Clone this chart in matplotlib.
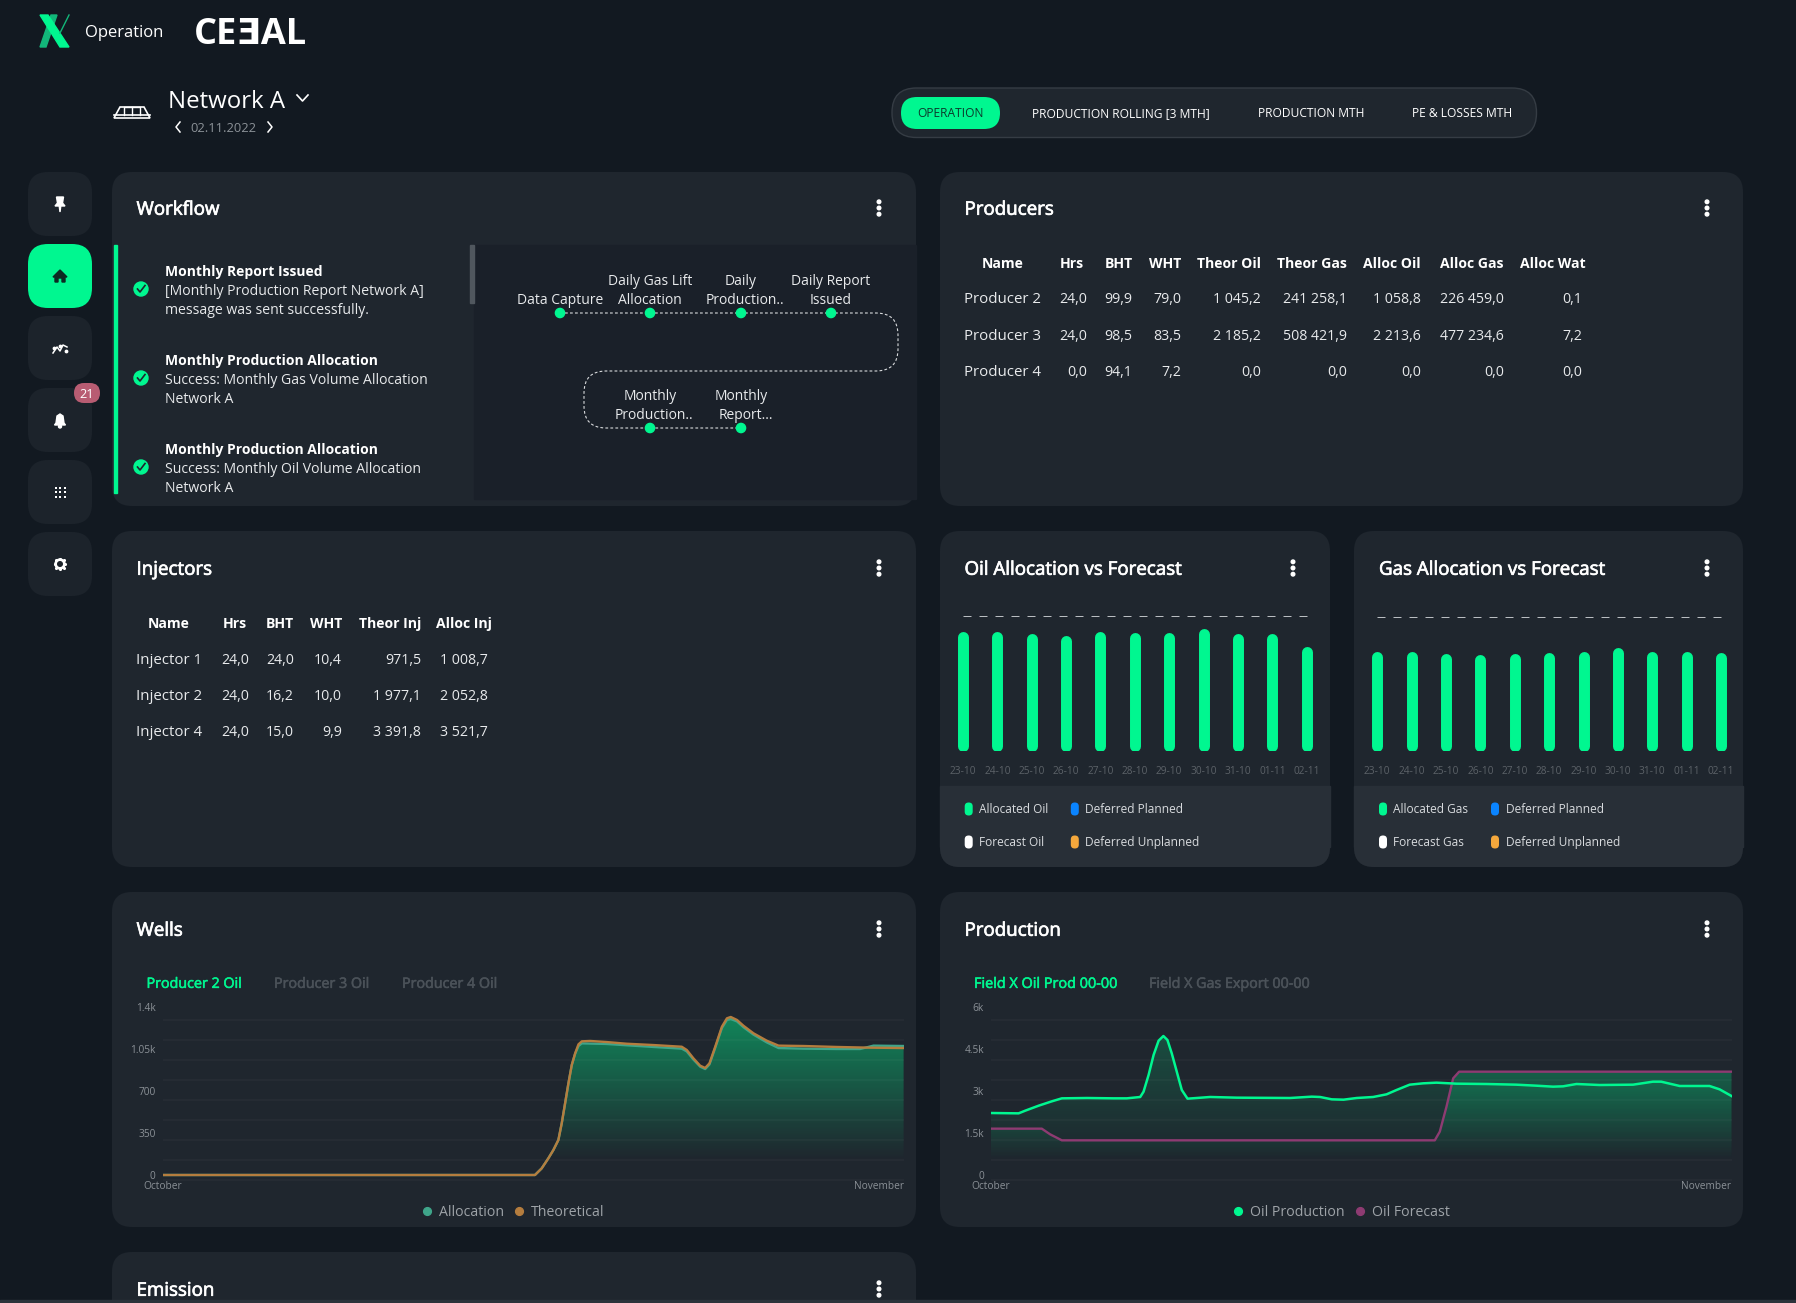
# Operation dashboard, network A
import numpy as np
import matplotlib
matplotlib.use("Agg")
import matplotlib.patheffects as pe
import matplotlib.pyplot as plt
from matplotlib.lines import Line2D
from matplotlib.patches import Circle, FancyBboxPatch, PathPatch, Polygon, Rectangle
from matplotlib.path import Path

plt.rcParams["font.family"] = ["Open Sans", "DejaVu Sans"]

W, H = 1796, 1303

BG = "#121921"
CARD = "#1f262e"
PANEL = "#1a2029"
BAND = "#282f37"
GREEN = "#00f790"
GRID = (1, 1, 1, 0.03)
MUTED = "#8b9197"
TEXT = "#e8eaec"

# tables
producer_cols = ["Name", "Hrs", "BHT", "WHT", "Theor Oil", "Theor Gas", "Alloc Oil", "Alloc Gas", "Alloc Wat"]
producer_rows = [
    ["Producer 2", "24,0", "99,9", "79,0", "1 045,2", "241 258,1", "1 058,8", "226 459,0", "0,1"],
    ["Producer 3", "24,0", "98,5", "83,5", "2 185,2", "508 421,9", "2 213,6", "477 234,6", "7,2"],
    ["Producer 4", "0,0", "94,1", "7,2", "0,0", "0,0", "0,0", "0,0", "0,0"],
]
injector_cols = ["Name", "Hrs", "BHT", "WHT", "Theor Inj", "Alloc Inj"]
injector_rows = [
    ["Injector 1", "24,0", "24,0", "10,4", "971,5", "1 008,7"],
    ["Injector 2", "24,0", "16,2", "10,0", "1 977,1", "2 052,8"],
    ["Injector 4", "24,0", "15,0", "9,9", "3 391,8", "3 521,7"],
]

# bar panels
days = ["23-10", "24-10", "25-10", "26-10", "27-10", "28-10", "29-10", "30-10", "31-10", "01-11", "02-11"]
oil_allocated = [120.0, 119.6, 118.3, 116.3, 119.6, 118.6, 119.3, 123.0, 117.6, 117.6, 104.6]
oil_forecast = [135.6, 135.6, 135.6, 135.6, 135.6, 135.6, 135.6, 135.6, 135.6, 135.6, 135.6]
gas_allocated = [100.3, 100.0, 98.0, 97.3, 97.7, 99.0, 99.7, 104.3, 100.3, 99.7, 99.3]
gas_forecast = [134.6, 134.6, 134.6, 134.6, 134.6, 134.6, 134.6, 134.6, 134.6, 134.6, 134.6]

# wells, x in days since the start of October
theo_x = [0, 15.58, 15.86, 16.14, 16.35, 16.56, 16.70, 16.84, 16.98, 17.12, 17.26, 17.40, 17.54, 17.89,
          18.58, 19.42, 20.54, 21.72, 21.93, 22.21, 22.49, 22.70, 22.88, 23.12, 23.40, 23.61, 23.77,
          24.03, 24.30, 24.72, 25.28, 25.77, 26.81, 28.21, 29.60, 31]
theo_y = [0, 0, 55, 139, 208, 292, 431, 597, 764, 917, 1014, 1089, 1114, 1117,
          1108, 1094, 1083, 1069, 1042, 972, 911, 892, 931, 1069, 1236, 1306, 1317,
          1292, 1244, 1181, 1119, 1078, 1075, 1067, 1061, 1058]
alloc_x = [0, 15.58, 15.86, 16.14, 16.35, 16.56, 16.70, 16.84, 16.98, 17.12, 17.26, 17.40, 17.54,
           18.58, 19.42, 20.54, 21.72, 21.93, 22.21, 22.49, 22.70, 22.88, 23.12, 23.40, 23.61, 23.77,
           24.03, 24.30, 24.72, 25.28, 25.77, 26.81, 28.21, 29.18, 29.74, 31]
alloc_y = [0, 0, 55, 139, 208, 292, 431, 597, 764, 917, 1010, 1075, 1097,
           1092, 1081, 1067, 1053, 1030, 962, 903, 883, 922, 1060, 1225, 1292, 1300,
           1280, 1232, 1170, 1105, 1058, 1053, 1050, 1050, 1078, 1075]

# production
prod_x = [0, 1.16, 1.44, 2.0, 2.55, 2.97, 4.02, 5.13, 5.69, 6.25, 6.39, 6.60, 6.81, 7.02, 7.22, 7.39, 7.57,
          7.78, 7.99, 8.23, 9.18, 10.29, 12.52, 13.43, 13.78, 14.27, 14.76, 15.31, 16.0, 16.56, 16.98, 17.53,
          18.09, 18.65, 19.48, 20.74, 21.99, 22.83, 23.53, 23.95, 24.51, 25.48, 26.88, 27.71, 28.06, 28.83,
          30.08, 30.50, 31]
prod_y = [2214, 2202, 2298, 2476, 2631, 2738, 2750, 2738, 2738, 2786, 2976, 3571, 4286, 4798, 4964, 4821, 4345,
          3690, 3036, 2726, 2786, 2762, 2750, 2798, 2786, 2702, 2690, 2750, 2786, 2881, 3036, 3226,
          3274, 3298, 3262, 3250, 3226, 3190, 3155, 3167, 3250, 3214, 3226, 3333, 3333, 3179,
          3179, 3060, 2821]
fcst_x = [0, 2.13, 2.48, 2.97, 18.58, 18.79, 19.07, 19.35, 19.6, 31]
fcst_y = [1655, 1655, 1452, 1238, 1238, 1548, 2440, 3452, 3690, 3690]

fig = plt.figure(figsize=(W / 100, H / 100), dpi=100, facecolor=BG)
ui = fig.add_axes([0, 0, 1, 1], zorder=0)
ui.set_xlim(0, W)
ui.set_ylim(H, 0)
ui.axis("off")


def rbox(x0, y0, x1, y1, r, color, edge="none", lw=0, z=1):
    ui.add_patch(FancyBboxPatch((x0 + r, y0 + r), x1 - x0 - 2 * r, y1 - y0 - 2 * r,
                                boxstyle=f"round,pad={r},rounding_size={r}",
                                facecolor=color, edgecolor=edge, linewidth=lw, zorder=z))


def label(x, y, s, size=10, color=TEXT, ha="left", weight="normal", z=5, stroke=0):
    # y is the middle of the capitals, so every string sits on the same baseline
    t = ui.text(x, y + 0.5 * size, s, fontsize=size, color=color, ha=ha, va="baseline", fontweight=weight, zorder=z)
    if stroke:
        t.set_path_effects([pe.withStroke(linewidth=stroke, foreground=color)])


def menu(x, y):
    for dy in (-6.2, 0, 6.2):
        ui.add_patch(Circle((x, y + dy), 1.8, color="white", zorder=5))


def pill(x, y, color):
    rbox(x - 4, y - 6.5, x + 4, y + 6.5, 3.9, color, z=5)


def card(x0, y0, x1, y1, title, tx, ty, mx):
    rbox(x0, y0, x1, y1, 20, CARD)
    label(tx, ty, title, size=13.5, color="white", stroke=0.5)
    menu(mx, ty)


def table(cols, rows, xs, ys, name_x, head_xs):
    for col, x in zip(cols, head_xs):
        label(x, ys[0], col, size=10.1, color="white", ha="right", weight="bold")
    for row, y in zip(rows, ys[1:]):
        label(name_x, y, row[0], size=10.8)
        for val, x in zip(row[1:], xs):
            label(x, y, val, size=10.2, ha="right")


# page header
ui.add_patch(Polygon([[40, 47], [51, 15], [57, 15], [46, 47]], color="#12b77a", zorder=3))
ui.add_patch(Polygon([[40, 15], [48, 15], [69, 47], [60, 47]], color=GREEN, zorder=3))
ui.plot([60, 69], [33, 15], color="#12b77a", lw=1, zorder=3)
label(85.5, 31, "Operation", size=12, color="white")
label(194, 31, "CEƎAL", size=26, color="white", weight="bold")
label(168, 99, "Network A", size=17.3, color="white")
ui.plot([297, 302.5, 308], [95, 101, 95], color="white", lw=1.2)
label(190.5, 127, "02.11.2022", size=9.3, color=MUTED)
ui.plot([180, 176, 180], [122, 127, 132], color="white", lw=1.1)
ui.plot([268, 272, 268], [122, 127, 132], color="white", lw=1.1)
ui.add_patch(Polygon([[114, 118], [120, 107], [144, 107], [150, 118]], facecolor="none", edgecolor="white", lw=1.2))
ui.plot([114, 150], [115, 115], color="white", lw=1.2)
ui.plot([124, 124, 140, 140], [115, 107, 107, 115], color="white", lw=1)
ui.plot([132, 132], [107, 115], color="white", lw=1)

# view tabs
rbox(892, 88, 1536.5, 137.5, 24.5, CARD, edge="#353c44", lw=1)
rbox(901, 97, 1000, 129, 16, GREEN, z=2)
label(950, 112.5, "OPERATION", size=8.65, color="#0c3a2c", ha="center")
label(1120.5, 112.5, "PRODUCTION ROLLING [3 MTH]", size=8.65, color="white", ha="center")
label(1311, 112.5, "PRODUCTION MTH", size=8.65, color="white", ha="center")
label(1462, 112.5, "PE & LOSSES MTH", size=8.65, color="white", ha="center")

# side bar
for i, top in enumerate([172, 244, 316, 388, 460, 532]):
    rbox(28, top, 92, top + 64, 20, GREEN if i == 1 else "#1c232b")
ui.add_patch(Polygon([[56.5, 197], [63.5, 197], [62.5, 203], [65, 206], [60.8, 206], [60, 212], [59.2, 206], [55, 206],
                      [57.5, 203]], color="white", zorder=5))
ui.add_patch(Polygon([[60, 270], [67, 277], [65, 277], [65, 282], [62, 282], [62, 278], [58, 278], [58, 282],
                      [55, 282], [55, 277], [53, 277]], color="#0c2a22", zorder=5))
ui.plot([53, 57, 60, 63, 67], [353, 347, 351, 345, 347], color="white", lw=1.1, zorder=5)
ui.scatter([54, 60, 66], [348, 346, 351], s=3, color="white", zorder=5)
ui.add_patch(Polygon([[60, 414], [63, 416], [64, 423], [65.5, 425], [54.5, 425], [56, 423], [57, 416]], color="white", zorder=5))
ui.add_patch(Circle((60, 426.5), 1.5, color="white", zorder=5))
rbox(74, 383, 100, 403, 10, "#b85c72", z=6)
label(87, 393, "21", size=9.2, color="white", ha="center", z=7)
grid_x, grid_y = np.meshgrid([55.5, 60, 64.5], [487.5, 492, 496.5])
ui.scatter(grid_x.ravel(), grid_y.ravel(), s=3.2, marker="s", color="white", linewidths=0, zorder=5)
ui.add_patch(Circle((60, 564), 5, color="white", zorder=5))
teeth = np.arange(8) * np.pi / 4
ui.scatter(60 + 5.4 * np.cos(teeth), 564 + 5.4 * np.sin(teeth), s=5, marker="o", color="white", linewidths=0, zorder=5)
ui.add_patch(Circle((60, 564), 2.3, color="#1c232b", zorder=6))

# cards
card(112, 172, 916, 506, "Workflow", 136.5, 208, 879)
card(940, 172, 1743, 506, "Producers", 964.5, 208, 1707)
card(112, 531, 916, 867, "Injectors", 136.5, 568, 879)
card(940, 531, 1330, 867, "Oil Allocation vs Forecast", 964.5, 568, 1293)
card(1354, 531, 1743, 867, "Gas Allocation vs Forecast", 1379, 568, 1707)
card(112, 892, 916, 1227, "Wells", 136.5, 929, 879)
card(940, 892, 1743, 1227, "Production", 964.5, 929, 1707)
card(112, 1252, 916, 1340, "Emission", 136.5, 1289, 879)
ui.add_patch(Rectangle((0, 1300), W, 3, color="#2c333b", zorder=8))

# workflow list
ui.add_patch(Rectangle((114, 245), 3, 248, color=GREEN, zorder=3))
ui.add_patch(Rectangle((474, 245), 442, 254, color=PANEL, zorder=2))
ui.add_patch(Rectangle((470, 245), 4, 58, color="#50575e", zorder=3))
steps = [
    ("Monthly Report Issued", "[Monthly Production Report Network A]", "message was sent successfully."),
    ("Monthly Production Allocation", "Success: Monthly Gas Volume Allocation", "Network A"),
    ("Monthly Production Allocation", "Success: Monthly Oil Volume Allocation", "Network A"),
]
for (head, line1, line2), y in zip(steps, [271, 360, 449]):
    label(165, y, head, size=10, color="white", weight="bold")
    label(165, y + 19, line1, size=10.1)
    label(165, y + 38, line2, size=10.1)
    ui.add_patch(Circle((141, y + 18), 7, color=GREEN, zorder=4))
    ui.plot([137.5, 140, 145], [y + 18, y + 21, y + 14.5], color=CARD, lw=1.2, zorder=5)

# workflow diagram
verts = [(560, 313), (876, 313), (898, 313), (898, 335), (898, 349), (898, 371), (876, 371),
         (606, 371), (584, 371), (584, 393), (584, 406), (584, 428), (606, 428), (741, 428)]
codes = [Path.MOVETO, Path.LINETO, Path.CURVE3, Path.CURVE3, Path.LINETO, Path.CURVE3, Path.CURVE3,
         Path.LINETO, Path.CURVE3, Path.CURVE3, Path.LINETO, Path.CURVE3, Path.CURVE3, Path.LINETO]
ui.add_patch(PathPatch(Path(verts, codes), facecolor="none", edgecolor="#d8dadc", lw=0.8, ls=(0, (2.5, 2)), zorder=3))
for x, y in [(560, 313), (650, 313), (741, 313), (831, 313), (650, 428), (741, 428)]:
    ui.add_patch(Circle((x, y), 4.6, color=GREEN, zorder=4))
label(560, 299, "Data Capture", ha="center")
for x, y, a, b, dx in [(650, 280, "Daily Gas Lift", "Allocation", 0), (741, 280, "Daily", "Production..", 3.5),
                       (831, 280, "Daily Report", "Issued", 0), (650, 395, "Monthly", "Production..", 3.5),
                       (741, 395, "Monthly", "Report...", 4.5)]:
    label(x, y, a, ha="center")
    label(x + dx, y + 19, b, ha="center")

# tables
table(producer_cols, producer_rows, [1087, 1132, 1181, 1261, 1347, 1421, 1504, 1582],
      [263, 298, 334.5, 370.5], 964.5,
      [1024, 1084, 1133, 1181, 1261, 1347, 1421, 1503, 1586])
table(injector_cols, injector_rows, [249, 294, 342, 421, 488],
      [623, 658.5, 694.5, 730.5], 136.5,
      [190, 247, 294, 342, 421, 492])


def bar_panel(x0, x1, values, forecast, labels, names, colors, mark_xs, text_xs):
    ui.add_patch(Rectangle((x0, 786), x1 - x0, 61, color=BAND, zorder=2))
    rbox(x0, 826, x1, 867, 20, BAND, z=2)
    first = mark_xs[0] - 5.7
    step = 34.37
    ax = fig.add_axes([(first - step / 2) / W, 1 - 751.3 / H, step * 11 / W, 150 / H], zorder=2)
    ax.patch.set_alpha(0)
    pos = np.arange(len(values))
    ax.vlines(pos, 5.5, np.array(values) - 5.5, color=GREEN, lw=7.9, capstyle="round")
    ax.plot(pos, forecast, color="#b9bdc1", lw=0.72, ls=(0, (8, 8)))
    ax.set_xlim(-0.5, 10.5)
    ax.set_ylim(0, 150)
    ax.set_yticks([])
    ax.set_xticks(pos, labels)
    ax.tick_params(axis="x", length=0, pad=10.5, labelsize=7.3, labelcolor="#5c6268")
    for side in ax.spines.values():
        side.set_visible(False)
    spots = [(mark_xs[0], text_xs[0], 809), (mark_xs[1], text_xs[1], 809),
             (mark_xs[0], text_xs[0], 842), (mark_xs[1], text_xs[1], 842)]
    for name, color, (mx, tx, y) in zip(names, colors, spots):
        pill(mx, y, color)
        label(tx, y, name, size=8.6, color="#d8dbde")


legend_colors = [GREEN, "#0a84ff", "white", "#f5a83c"]
bar_panel(940, 1330, oil_allocated, oil_forecast, days,
          ["Allocated Oil", "Deferred Planned", "Forecast Oil", "Deferred Unplanned"],
          legend_colors, [968.7, 1074.8], [979, 1085])
bar_panel(1354, 1743, gas_allocated, gas_forecast, days,
          ["Allocated Gas", "Deferred Planned", "Forecast Gas", "Deferred Unplanned"],
          legend_colors, [1383, 1495], [1393, 1505.7])


def area_axes(x0, x1, ymax, ticks, ticklabels):
    # zero sits at y=1175 px and ymax at y=1007 px
    per_px = ymax / 168
    ax = fig.add_axes([x0 / W, 1 - 1181 / H, (x1 - x0) / W, 174 / H], zorder=2)
    ax.patch.set_alpha(0)
    ax.hlines([(1175 - y) * per_px for y in range(1020, 1181, 20)], 0, 31, color=GRID, lw=1.2, zorder=3)
    ax.set_yticks(ticks, ticklabels)
    ax.set_xticks([0, 31], ["October", "November"])
    ax.get_xticklabels()[1].set_ha("right")
    ax.tick_params(length=0, pad=5, labelsize=7.3, labelcolor=MUTED)
    ax.tick_params(axis="x", pad=0)
    for side in ax.spines.values():
        side.set_visible(False)
    return ax, per_px


def gradient_fill(ax, x, y, base, top, alpha):
    shape = ax.fill_between(x, y, base, facecolor="none", edgecolor="none")
    grad = np.zeros((256, 1, 4))
    grad[..., 0] = 0.0
    grad[..., 1] = 0.97
    grad[..., 2] = 0.56
    grad[..., 3] = np.linspace(alpha, 0, 256)[:, None]
    im = ax.imshow(grad, extent=[0, 31, base, top], aspect="auto", zorder=1, interpolation="bilinear")
    im.set_clip_path(shape.get_paths()[0], transform=ax.transData)


def area_legend(ax, names, colors, cx):
    handles = [Line2D([], [], ls="none", marker="o", ms=5.6, color=c, label=n) for n, c in zip(names, colors)]
    ax.legend(handles=handles, loc="center", bbox_to_anchor=(cx / W, 1 - 1212 / H), bbox_transform=fig.transFigure,
              ncol=2, frameon=False, fontsize=10.2, labelcolor="#9ea3a8", handlelength=0.6, handletextpad=0.55,
              columnspacing=0.75, borderpad=0)


# wells chart
wells_ax, wells_u = area_axes(162.5, 903.6, 1400, [0, 350, 700, 1050, 1400], ["0", "350", "700", "1.05k", "1.4k"])
gradient_fill(wells_ax, alloc_x, alloc_y, 15 * wells_u, 158 * wells_u, 0.46)
wells_ax.plot(alloc_x, alloc_y, color="#3fa58a", lw=1.7, zorder=4)
wells_ax.plot(theo_x, theo_y, color="#b57d3e", lw=1.7, zorder=5)
wells_ax.set_xlim(0, 31)
wells_ax.set_ylim(-6 * wells_u, 1400)
area_legend(wells_ax, ["Allocation", "Theoretical"], ["#3fa58a", "#b57d3e"], 513.5)
label(146.5, 982.7, "Producer 2 Oil", size=10.3, color=GREEN, stroke=0.4)
label(274, 982.7, "Producer 3 Oil", size=10.3, color="#4b5259", stroke=0.4)
label(402, 982.7, "Producer 4 Oil", size=10.3, color="#4b5259", stroke=0.4)

# production chart
prod_ax, prod_u = area_axes(990.9, 1731.5, 6000, [0, 1500, 3000, 4500, 6000], ["0", "1.5k", "3k", "4.5k", "6k"])
gradient_fill(prod_ax, prod_x, prod_y, 15 * prod_u, 158 * prod_u, 0.22)
gradient_fill(prod_ax, fcst_x, fcst_y, 15 * prod_u, 103 * prod_u, 0.27)
prod_ax.plot(fcst_x, fcst_y, color="#8e3b72", lw=1.7, zorder=4)
prod_ax.plot(prod_x, prod_y, color=GREEN, lw=1.8, zorder=5)
prod_ax.set_xlim(0, 31)
prod_ax.set_ylim(-6 * prod_u, 6000)
area_legend(prod_ax, ["Oil Production", "Oil Forecast"], [GREEN, "#8e3b72"], 1342)
label(974, 982.7, "Field X Oil Prod 00-00", size=10.4, color=GREEN, stroke=0.4)
label(1149, 982.7, "Field X Gas Export 00-00", size=10.3, color="#4b5259", stroke=0.4)

fig.savefig("out.png", dpi=100, facecolor=BG)
